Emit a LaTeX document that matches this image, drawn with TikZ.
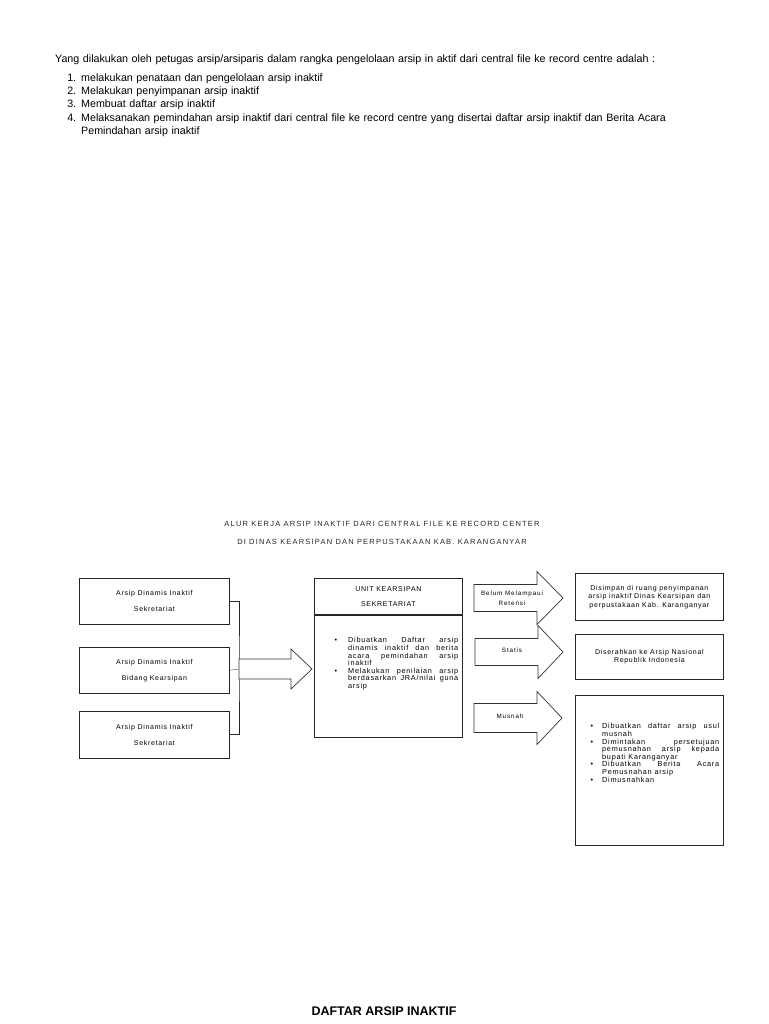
\documentclass[tikz,border=0pt]{standalone}
\usepackage{fontspec}
\setmainfont{Liberation Sans}
\usetikzlibrary{positioning}

\newcounter{nomor}
\newenvironment{butir}[2]{\begin{list}{\textbullet}{\setlength{\leftmargin}{#1}\setlength{\labelsep}{#2}\setlength{\labelwidth}{4pt}\setlength{\itemsep}{0pt}\setlength{\parsep}{0pt}\setlength{\topsep}{0pt}\setlength{\partopsep}{0pt}}}{\end{list}}

% panah blok: titik awal, panjang, panjang kepala, setengah batang, setengah kepala
\newcommand{\panah}[5]{%
	\draw[panahblok] #1 ++(0,-#4) -- ++(#2-#3,0) -- ++(0,-#5+#4) -- ++(#3,#5) -- ++(-#3,#5) -- ++(0,-#5+#4) -- ++(-#2+#3,0) -- cycle;}

\begin{document}
\begin{tikzpicture}[x=1pt,y=-1pt,
	kotak/.style={draw=black!85,line width=0.8pt,inner sep=0pt},
	teks/.style={font=\fontsize{7}{16}\selectfont\addfontfeatures{LetterSpace=10},align=center},
	isi/.style={font=\fontsize{7}{8.5}\selectfont\addfontfeatures{LetterSpace=10},align=center},
	panahblok/.style={draw=black!80,line width=0.7pt,fill=white},
	garis/.style={draw=black!85,line width=0.8pt},
	judul/.style={font=\fontsize{7.5}{8}\selectfont\addfontfeatures{LetterSpace=16},text=black!85},
	label/.style={font=\fontsize{6.3}{10}\selectfont\addfontfeatures{LetterSpace=14},align=center},
	daftar/.style={inner sep=0pt,text width=#1,align=justify,anchor=north west,font=\fontsize{7.3}{7.6}\selectfont\addfontfeatures{LetterSpace=10}}
	]
	\useasboundingbox (0,0) rectangle (768,1024);

	\node[anchor=north west,inner sep=0pt,text width=700,font=\fontsize{10.7}{13.3}\selectfont] (pembuka) at (55,55) {%
		Yang dilakukan oleh petugas arsip/arsiparis dalam rangka pengelolaan arsip in aktif dari central file ke record centre adalah :\par
		\begin{list}{\arabic{nomor}.}{\usecounter{nomor}\setlength{\leftmargin}{26pt}\setlength{\labelsep}{5pt}\setlength{\labelwidth}{10pt}\setlength{\itemsep}{0pt}\setlength{\parsep}{0pt}\setlength{\topsep}{3pt}}
			\item melakukan penataan dan pengelolaan arsip inaktif
			\item Melakukan penyimpanan arsip inaktif
			\item Membuat daftar arsip inaktif
			\item Melaksanakan pemindahan arsip inaktif dari central file ke record centre yang disertai daftar arsip inaktif dan Berita Acara\\
			Pemindahan arsip inaktif
		\end{list}};

	\node[judul] (judul1) at (382,524) {ALUR KERJA ARSIP INAKTIF DARI CENTRAL FILE KE RECORD CENTER};
	\node[judul] (judul2) at (382,542) {DI DINAS KEARSIPAN DAN PERPUSTAKAAN KAB. KARANGANYAR};

	% arsip dinamis inaktif
	\node[kotak,teks,minimum width=150,minimum height=46,anchor=north west] (sekr1) at (79,578) {Arsip Dinamis Inaktif\\Sekretariat};
	\node[kotak,teks,minimum width=150,minimum height=46,below=22pt of sekr1] (bidang) {Arsip Dinamis Inaktif\\Bidang Kearsipan};
	\node[kotak,teks,minimum width=150,minimum height=47,below=17pt of bidang] (sekr2) {Arsip Dinamis Inaktif\\Sekretariat};

	\coordinate (kumpul) at (239,669);
	\draw[garis] (sekr1.east) -| (kumpul) |- (sekr2.east);
	\draw[draw=black!70,line width=0.4pt] (bidang.east) -- (kumpul);
	\panah{(kumpul)}{73}{21}{10}{20}

	% unit kearsipan
	\node[kotak,teks,font=\fontsize{7}{15}\selectfont\addfontfeatures{LetterSpace=10},minimum width=148,minimum height=36,anchor=north west] (unit) at (314,578) {UNIT KEARSIPAN\\SEKRETARIAT};
	\node[kotak,minimum width=148,minimum height=122,anchor=north] (tugas) at (unit.south) {};
	\node[daftar=128] (tugasisi) at (330,635) {%
		\begin{butir}{18pt}{11pt}
			\item Dibuatkan Daftar arsip\linebreak dinamis inaktif dan berita\linebreak acara pemindahan arsip\linebreak inaktif
			\item Melakukan penilaian arsip\linebreak berdasarkan JRA/nilai guna\linebreak arsip
		\end{butir}};

	% tiga jalur
	\coordinate (jalur1) at (474,598);
	\coordinate (jalur2) at (475,652);
	\coordinate (jalur3) at (474,718);
	\panah{(jalur1)}{89}{26}{13.5}{26.5}
	\panah{(jalur2)}{88}{25}{13.5}{26.5}
	\panah{(jalur3)}{88}{25}{14.5}{26.5}
	\node[label] (retensi) at (512,598) {Belum Melampaui\\Retensi};
	\node[label] (statis) at (512,650) {Statis};
	\node[label] (musnah) at (510,716) {Musnah};

	\node[kotak,isi,minimum width=148,minimum height=47,anchor=north west] (simpan) at (575,573) {Disimpan di ruang penyimpanan\\arsip inaktif Dinas Kearsipan dan\\perpustakaan Kab. Karanganyar};
	\node[kotak,isi,minimum width=148,minimum height=45,below=13pt of simpan] (serah) {Diserahkan ke Arsip Nasional\\Republik Indonesia};
	\node[kotak,minimum width=148,minimum height=150,below=15pt of serah] (hapus) {};
	\node[daftar=131] (hapusisi) at (588,721) {%
		\begin{butir}{14pt}{9pt}
			\item Dibuatkan daftar arsip usul\linebreak musnah
			\item Dimintakan persetujuan\linebreak pemusnahan arsip kepada\linebreak bupati Karanganyar
			\item Dibuatkan Berita Acara\linebreak Pemusnahan arsip
			\item Dimusnahkan
		\end{butir}};

	\node[font=\fontsize{12.5}{14}\selectfont\bfseries] (judulbawah) at (384,1011) {DAFTAR ARSIP INAKTIF};
\end{tikzpicture}
\end{document}
